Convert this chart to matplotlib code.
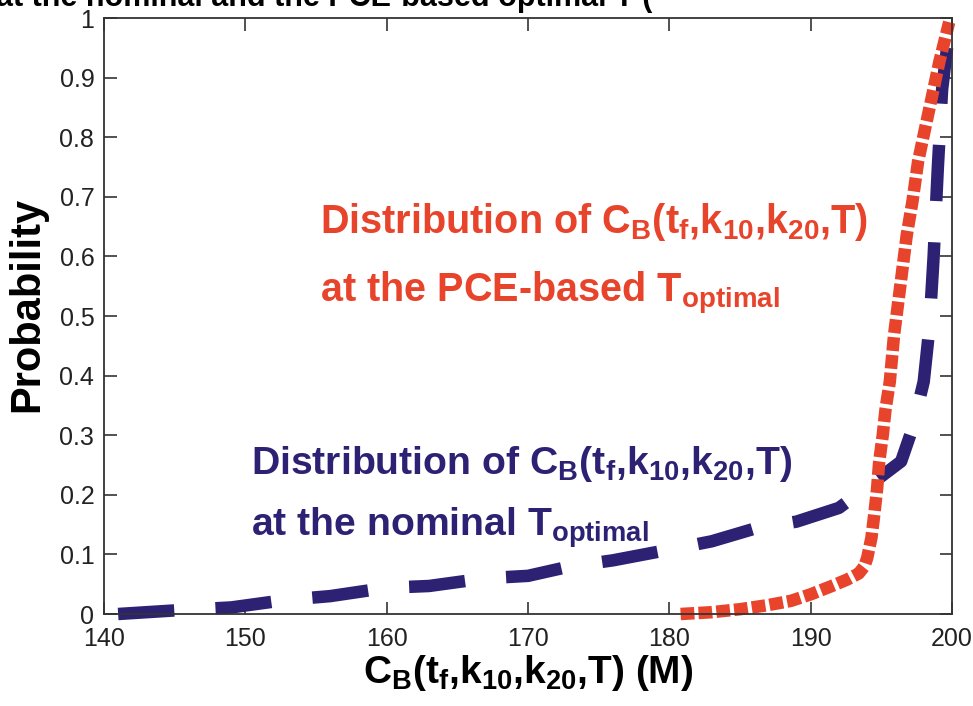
import matplotlib
matplotlib.use("Agg")
import matplotlib.pyplot as plt

# Empirical CDF of C_B at the nominal optimal temperature
cb_nominal = [141.0, 145.0, 149.0, 153.0, 156.0, 160.0, 163.0, 167.0, 170.0, 173.0,
              176.0, 180.0, 183.0, 186.0, 189.0, 192.0, 194.0, 196.4, 197.2, 198.0,
              198.4, 198.7, 199.0, 199.3, 199.7, 200.0]
p_nominal = [0.000, 0.006, 0.011, 0.024, 0.030, 0.044, 0.047, 0.060, 0.064, 0.080,
             0.090, 0.108, 0.122, 0.143, 0.155, 0.178, 0.213, 0.256, 0.311, 0.390,
             0.480, 0.600, 0.750, 0.880, 0.960, 1.000]

# Empirical CDF of C_B at the PCE-based optimal temperature
cb_pce = [180.8, 183.0, 185.0, 187.0, 188.6, 190.0, 191.5, 192.6, 193.4, 193.8,
          194.0, 194.3, 194.5, 194.7, 194.85, 195.1, 195.3, 195.6, 195.9, 196.2,
          196.5, 196.8, 197.2, 197.6, 198.1, 198.6, 199.1, 199.8]
p_pce = [0.000, 0.003, 0.008, 0.015, 0.022, 0.033, 0.047, 0.058, 0.068, 0.080,
         0.094, 0.128, 0.167, 0.210, 0.256, 0.300, 0.344, 0.390, 0.468, 0.524,
         0.580, 0.636, 0.692, 0.759, 0.815, 0.870, 0.926, 0.993]

x_ticks = [140, 150, 160, 170, 180, 190, 200]
y_ticks = [0, 0.1, 0.2, 0.3, 0.4, 0.5, 0.6, 0.7, 0.8, 0.9, 1]
y_tick_labels = ["0", "0.1", "0.2", "0.3", "0.4", "0.5", "0.6", "0.7", "0.8", "0.9", "1"]

RED = "#e8432b"
BLUE = "#2d2174"

plt.rcParams["font.family"] = ["Liberation Sans", "DejaVu Sans"]
plt.rcParams["mathtext.fontset"] = "custom"
plt.rcParams["mathtext.rm"] = "Liberation Sans:bold"
plt.rcParams["mathtext.it"] = "Liberation Sans:bold"
plt.rcParams["mathtext.bf"] = "Liberation Sans:bold"
plt.rcParams["mathtext.default"] = "rm"

W, H = 973, 706
fig = plt.figure(figsize=(W / 100, H / 100), dpi=100)
ax = fig.add_axes([104 / W, 92 / H, 848 / W, 596 / H])

ax.plot(cb_nominal, p_nominal, color=BLUE, lw=9, linestyle=(0, (4.5, 3.3)),
        dash_capstyle="butt", solid_capstyle="butt", clip_on=False)
ax.plot(cb_pce, p_pce, color=RED, lw=9, linestyle=(0, (1.1, 0.33)),
        dash_capstyle="butt", solid_capstyle="butt", clip_on=False)

ax.set_xlim(140, 200)
ax.set_ylim(0, 1)
ax.set_xticks(x_ticks)
ax.set_xticklabels([str(v) for v in x_ticks])
ax.set_yticks(y_ticks)
ax.set_yticklabels(y_tick_labels)
ax.tick_params(direction="in", length=9, width=1.2, color="#333333",
               top=True, right=True, labelsize=18, labelcolor="#222222")
ax.tick_params(axis="x", pad=9)
ax.tick_params(axis="y", pad=7)
for s in ax.spines.values():
    s.set_linewidth(1.3)
    s.set_color("#333333")

ax.set_xlabel(r"$C_B(t_f{,}k_{10}{,}k_{20}{,}T)$ (M)", fontsize=28, fontweight="bold", labelpad=2)
ax.set_ylabel("Probability", fontsize=30, fontweight="bold")
ax.yaxis.set_label_coords(-57 / 848, 0.52)


def px(x, y):
    """Figure pixel position measured from the top-left corner."""
    return x / W, 1 - y / H


line1 = r"Distribution of $C_B(t_f{,}k_{10}{,}k_{20}{,}T)$"
fig.text(*px(320, 233), line1, fontsize=28.5, color=RED, fontweight="bold",
         va="baseline", ha="left")
fig.text(*px(320, 302), r"at the PCE-based $T_{optimal}$", fontsize=28.5, color=RED,
         fontweight="bold", va="baseline", ha="left")
fig.text(*px(251, 474), line1, fontsize=28.2, color=BLUE, fontweight="bold",
         va="baseline", ha="left")
fig.text(*px(251, 536), r"at the nominal $T_{optimal}$", fontsize=28.2, color=BLUE,
         fontweight="bold", va="baseline", ha="left")

fig.text(*px(-4, 6), "at the nominal and the PCE-based optimal T (",
         fontsize=22, fontweight="bold", color="black", va="baseline", ha="left")

fig.savefig("out.png", dpi=100)
